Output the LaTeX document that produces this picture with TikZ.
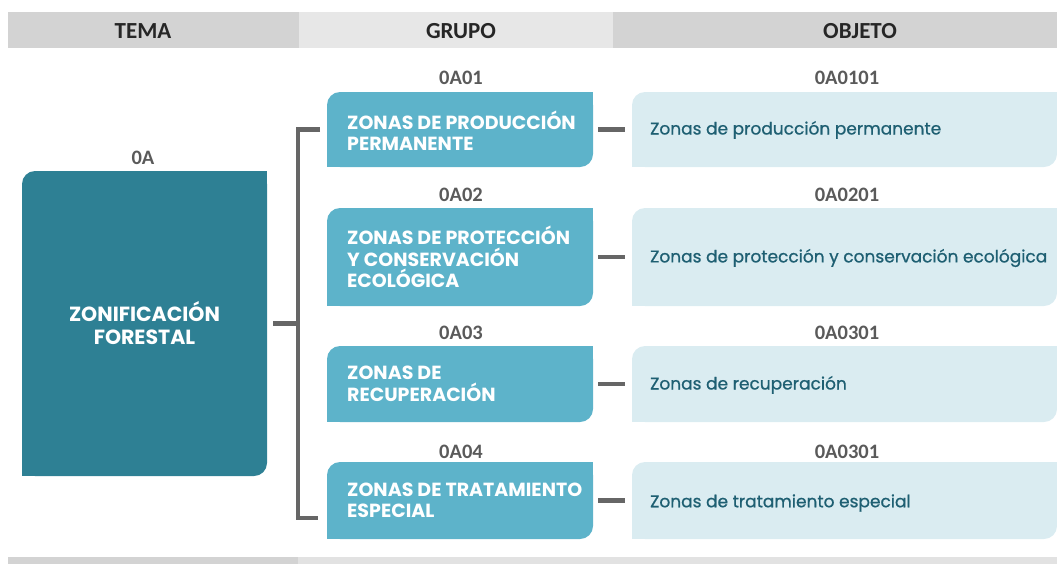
\documentclass[tikz,border=0pt]{standalone}
\usepackage{fontspec}
\setmainfont{Poppins}
\newfontfamily\calib{Carlito}
\newfontfamily\objfont{Poppins}[FakeBold=0.8]
\definecolor{hdrA}{HTML}{D3D3D3}
\definecolor{hdrB}{HTML}{E7E7E7}
\definecolor{barB}{HTML}{E2E2E2}
\definecolor{tealbox}{HTML}{2E8094}
\definecolor{grp}{HTML}{5DB3CA}
\definecolor{obj}{HTML}{DAECF1}
\definecolor{objtxt}{HTML}{1E5F72}
\definecolor{conn}{HTML}{666666}
\definecolor{codecol}{HTML}{5A5A5A}
\tikzset{
  box/.style={inner sep=0pt, outer sep=0pt, rounded corners=13pt, anchor=north west},
  cell/.style={inner sep=0pt, outer sep=0pt, anchor=north west, minimum height=36pt},
  hdrtext/.style={font=\calib\bfseries\fontsize{23}{23}\selectfont, text=black!85},
  codetext/.style={font=\calib\bfseries\fontsize{20.5}{20.5}\selectfont, text=codecol},
  grptext/.style={font=\bfseries\fontsize{19}{21.5}\selectfont, text=white, align=left, anchor=west, inner sep=0pt},
  maintext/.style={font=\bfseries\fontsize{20.5}{23}\selectfont, text=white, align=center},
  objlabel/.style={font=\objfont\fontsize{17}{18}\selectfont, text=objtxt, anchor=west, inner sep=0pt},
  grpbox/.style={box, fill=grp, minimum width=266pt},
  objbox/.style={box, fill=obj, minimum width=425pt},
  link/.style={draw=conn, line width=4.5pt},
}
\newcommand\sqcorners[3]{%
  \fill[#2] (#1.north east) rectangle ([xshift=-#3,yshift=-#3]#1.north east);
  \fill[#2] (#1.south west) rectangle ([xshift=#3,yshift=#3]#1.south west);}
\begin{document}
\begin{tikzpicture}[x=1pt,y=-1pt]
\useasboundingbox (0,0) rectangle (1057,563);
% header
\node[cell, fill=hdrA, minimum width=291pt] (h1) at (8,12) {};
\node[cell, fill=hdrB, minimum width=314pt] (h2) at (299,12) {};
\node[cell, fill=hdrA, minimum width=444pt] (h3) at (613,12) {};
\node[hdrtext] (t1) at (143,31) {TEMA};
\node[hdrtext] (t2) at (461,31) {GRUPO};
\node[hdrtext] (t3) at (860,31) {OBJETO};
% bottom bar
\node[cell, fill=hdrA, minimum width=290pt, minimum height=7pt] (b1) at (8,557) {};
\node[cell, fill=barB, minimum width=759pt, minimum height=7pt] (b2) at (298,557) {};
% main box
\node[box, fill=tealbox, minimum width=245pt, minimum height=305pt, maintext] (tema) at (22,171) {ZONIFICACIÓN\\FORESTAL};
\sqcorners{tema}{tealbox}{13pt}
\node[codetext] (c0) at (143,158) {0A};
% group boxes
\node[grpbox, minimum height=75pt] (g1) at (327,92) {};
\node[grpbox, minimum height=98pt] (g2) at (327,208) {};
\node[grpbox, minimum height=76pt] (g3) at (327,346) {};
\node[grpbox, minimum height=77pt] (g4) at (327,462) {};
\foreach \n in {g1,g2,g3,g4} {\sqcorners{\n}{grp}{13pt}}
\node[grptext] (gt1) at ([xshift=20pt,yshift=-1pt]g1.west) {ZONAS DE PRODUCCIÓN\\PERMANENTE};
\node[grptext] (gt2) at ([xshift=20pt]g2.west) {ZONAS DE PROTECCIÓN\\Y CONSERVACIÓN\\ECOLÓGICA};
\node[grptext] (gt3) at ([xshift=20pt]g3.west) {ZONAS DE\\RECUPERACIÓN};
\node[grptext] (gt4) at ([xshift=20pt]g4.west) {ZONAS DE TRATAMIENTO\\ESPECIAL};
\node[codetext] (c1) at (461,78) {0A01};
\node[codetext] (c2) at (461,195) {0A02};
\node[codetext] (c3) at (461,333) {0A03};
\node[codetext] (c4) at (461,452) {0A04};
% object boxes
\node[objbox, minimum height=75pt] (o1) at (632,92) {};
\node[objbox, minimum height=98pt] (o2) at (632,208) {};
\node[objbox, minimum height=76pt] (o3) at (632,346) {};
\node[objbox, minimum height=77pt] (o4) at (632,462) {};
\foreach \n in {o1,o2,o3,o4} {\sqcorners{\n}{obj}{13pt}}
\node[objlabel] (l1) at (650,130) {Zonas de producción permanente};
\node[objlabel] (l2) at (650,258) {Zonas de protección y conservación ecológica};
\node[objlabel] (l3) at (650,385) {Zonas de recuperación};
\node[objlabel] (l4) at (650,503) {Zonas de tratamiento especial};
\node[codetext] (d1) at (847,78) {0A0101};
\node[codetext] (d2) at (847,195) {0A0201};
\node[codetext] (d3) at (847,333) {0A0301};
\node[codetext] (d4) at (847,452) {0A0301};
% connectors
\coordinate (bx) at (298,0);
\coordinate (bb) at (298,518);
\draw[link] ([xshift=6pt]tema.east) -- (tema.east -| bx);
\draw[link] ([xshift=-7pt]g1.west) -- (g1.west -| bx) -- (bb) -- ([xshift=20pt]bb);
\foreach \i in {1,2,3,4} {\draw[link] ([xshift=5pt]g\i.east) -- ([xshift=-7pt]o\i.west);}
\end{tikzpicture}
\end{document}
